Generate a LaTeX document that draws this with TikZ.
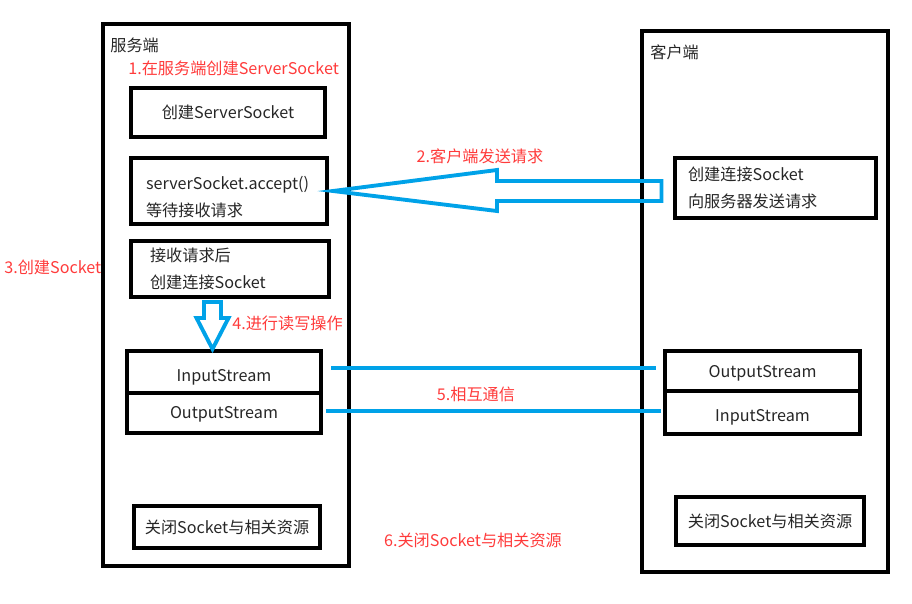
\documentclass[tikz,border=0pt]{standalone}
\usepackage{fontspec}
\setmainfont{Noto Sans CJK SC}
\usepackage{xcolor}
\usepackage{tikz}
\usetikzlibrary{calc,positioning}
\definecolor{sockblue}{HTML}{00A2E8}
\definecolor{stepred}{HTML}{FF3B3B}
\definecolor{textgray}{HTML}{262626}
\tikzset{%
	side/.style  = {draw, line width=2.5pt},
	box/.style   = {draw, rectangle, line width=2.2pt, outer sep=0pt, inner sep=0pt, text=textgray, font=\fontsize{9.2pt}{15pt}\selectfont},
	title/.style = {inner sep=0pt, text=textgray, font=\fontsize{9.2pt}{11pt}\selectfont},
	hint/.style  = {inner sep=0pt, text=stepred, font=\fontsize{9.2pt}{11pt}\selectfont},
	flow/.style  = {draw=sockblue, line width=2.2pt},
	link/.style  = {draw=sockblue, line width=1.8pt},
}
\begin{document}
\begin{tikzpicture}[x=1cm,y=-1cm]
		\useasboundingbox (0,0) rectangle (18.24,12.06);
		\draw[side] (2.06,0.48) rectangle (6.98,11.32);  % server
		\draw[side] (12.84,0.62) rectangle (17.76,11.44);  % client
		\node[title, anchor=west] (server) at (2.2,0.9) {服务端};
		\node[title, anchor=west] (client) at (13.0,1.04) {客户端};
		% server side
		\node[box, minimum width=3.88cm, minimum height=0.98cm] (create) at (4.56,2.25) {创建ServerSocket};
		\node[box, minimum width=3.92cm, minimum height=1.32cm, text width=3.32cm, align=left, text height=0.5cm] (accept) at (4.58,3.82) {serverSocket.accept()\\等待接收请求};
		\node[box, minimum width=3.96cm, minimum height=1.12cm, text width=3.2cm, align=left] (accepted) at (4.6,5.38) {接收请求后\\创建连接Socket};
		\node[box, minimum width=3.88cm, minimum height=0.84cm, text height=0.45cm] (sin) at (4.48,7.44) {InputStream};
		\node[box, minimum width=3.88cm, minimum height=0.80cm, text height=0.3cm, below=0pt of sin] (sout) {OutputStream};
		\node[box, minimum width=3.72cm, minimum height=0.84cm] (sclose) at (4.54,10.54) {关闭Socket与相关资源};
		% client side
		\node[box, minimum width=4.02cm, minimum height=1.2cm, text width=3.5cm, align=left] (request) at (15.51,3.76) {创建连接Socket\\向服务器发送请求};
		\node[box, minimum width=3.9cm, minimum height=0.80cm, text height=0.33cm] (cout) at (15.25,7.42) {OutputStream};
		\node[box, minimum width=3.9cm, minimum height=0.86cm, text height=0.42cm, below=0pt of cout] (cin) {InputStream};
		\node[box, minimum width=3.76cm, minimum height=0.96cm] (cclose) at (15.4,10.42) {关闭Socket与相关资源};
		% steps
		\node[hint, anchor=west] (s1) at (2.56,1.36) {1.在服务端创建ServerSocket};
		\node[hint] (s2) at (9.6,3.12) {2.客户端发送请求};
		\node[hint, anchor=west] (s3) at (0.08,5.34) {3.创建Socket};
		\node[hint, anchor=west] (s4) at (4.64,6.46) {4.进行读写操作};
		\node[hint] (s5) at (9.52,7.88) {5.相互通信};
		\node[hint] (s6) at (9.46,10.8) {6.关闭Socket与相关资源};
		% hollow arrows
		\coordinate (tip) at ($(accept.east)+(0.12,0)$);
		\coordinate (tail) at ($(request.west)+(-0.27,0)$);
		\draw[flow] (tip) -- ++(3.28,-0.42) -- ++(0,0.22) -- ($(tip -| tail)+(0,-0.2)$) -- ++(0,0.4) -- ($(tip)+(3.28,0.2)$) -- ++(0,0.2) -- cycle;
		\coordinate (dtop) at ($(accepted.south)+(-0.35,0.1)$);
		\draw[flow] ($(dtop)+(-0.17,0)$) -- ++(0.34,0) -- ++(0,0.32) -- ++(0.15,0) -- ($(dtop)+(0,0.94)$) -- ($(dtop)+(-0.32,0.32)$) -- ++(0.15,0) -- cycle;
		% streams
		\draw[link, shorten <=0.2cm, shorten >=0.18cm] ([yshift=0.08cm]sin.east) -- ([yshift=0.08cm]sin.east -| cout.west);
		\draw[link, shorten <=0.1cm, shorten >=0.08cm] ([yshift=0.04cm]sout.east) -- ([yshift=0.04cm]sout.east -| cin.west);
\end{tikzpicture}
\end{document}
